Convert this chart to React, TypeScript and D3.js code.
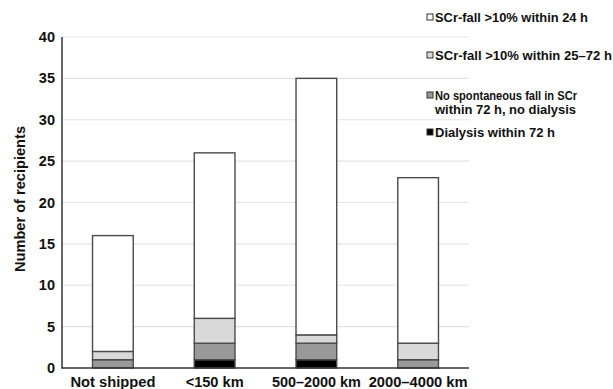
import React from "react";
import * as d3 from "d3";

const categories = ["Not shipped", "<150 km", "500–2000 km", "2000–4000 km"];
const dialysis = [0, 1, 1, 0];
const noFall = [1, 2, 2, 1];
const fall25to72 = [1, 3, 1, 2];
const fall24 = [14, 20, 31, 20];
const yTicks = [0, 5, 10, 15, 20, 25, 30, 35, 40];
const seriesNames = [
  "SCr-fall >10% within 24 h",
  "SCr-fall >10% within 25–72 h",
  "No spontaneous fall in SCr\nwithin 72 h, no dialysis",
  "Dialysis within 72 h",
];

const W = 613;
const H = 389;
const FONT = "'Liberation Sans', Arial, Helvetica, sans-serif";

export default function App() {
  const x = d3
    .scaleBand<string>()
    .domain(categories)
    .range([62, 469])
    .paddingInner(0.6)
    .paddingOuter(0.3);
  const y = d3.scaleLinear().domain([0, 40]).range([368, 37]);

  const keys = ["dialysis", "noFall", "fall25", "fall24"];
  const rows = categories.map((c, i) => ({
    cat: c,
    dialysis: dialysis[i],
    noFall: noFall[i],
    fall25: fall25to72[i],
    fall24: fall24[i],
  }));
  const stacked = d3.stack<any>().keys(keys)(rows);
  const fills: Record<string, string> = {
    dialysis: "#000000",
    noFall: "#999999",
    fall25: "#d9d9d9",
    fall24: "#ffffff",
  };
  const legendFills = ["#ffffff", "#d9d9d9", "#999999", "#000000"];
  const legendBaselines = [22, 60, 100, 137];
  const legendWidths = [[153], [177], [142, 141], [120]];
  const xLabelWidths = [85, 58, 89, 99];
  const bold = { fontWeight: 700, fontFamily: FONT } as React.CSSProperties;

  return (
    <svg
      width={W}
      height={H}
      style={{ position: "absolute", left: 0, top: 0, background: "#fff" }}
    >
      {/* gridlines */}
      {yTicks
        .filter((t) => t > 0)
        .map((t) => (
          <line
            key={t}
            x1={62}
            x2={469}
            y1={y(t)}
            y2={y(t)}
            stroke="#e3e3e3"
            strokeWidth={1.2}
          />
        ))}
      {/* bars */}
      {stacked.map((s) =>
        s.map((d, i) =>
          d[1] - d[0] > 0 ? (
            <rect
              key={s.key + i}
              x={x(categories[i])!}
              width={x.bandwidth()}
              y={y(d[1])}
              height={y(d[0]) - y(d[1])}
              fill={fills[s.key]}
              stroke="#4a4a4a"
              strokeWidth={1.4}
            />
          ) : null
        )
      )}
      {/* axes */}
      <line x1={62} x2={62} y1={37} y2={368.5} stroke="#333" strokeWidth={1.5} />
      <line x1={61.5} x2={469} y1={368} y2={368} stroke="#333" strokeWidth={1.5} />
      {yTicks.map((t) => (
        <text
          key={t}
          x={55}
          y={y(t) + 5}
          textAnchor="end"
          fontSize={14.5}
          fill="#111"
          style={bold}
        >
          {t}
        </text>
      ))}
      {categories.map((c, i) => (
        <text
          key={c}
          x={x(c)! + x.bandwidth() / 2}
          y={387}
          textAnchor="middle"
          fontSize={14}
          fill="#111"
          style={bold}
          textLength={xLabelWidths[i]}
          lengthAdjust="spacingAndGlyphs"
        >
          {c}
        </text>
      ))}
      <text
        transform="translate(25,199) rotate(-90)"
        textAnchor="middle"
        fontSize={14}
        fill="#111"
        style={bold}
        textLength={146}
        lengthAdjust="spacingAndGlyphs"
      >
        Number of recipients
      </text>
      {/* legend */}
      {seriesNames.map((name, i) => {
        const lines = name.split("\n");
        const by = legendBaselines[i];
        return (
          <g key={name}>
            <rect
              x={427}
              y={by - 8}
              width={6}
              height={6}
              fill={legendFills[i]}
              stroke="#333"
              strokeWidth={1}
            />
            {lines.map((ln, j) => (
              <text
                key={j}
                x={435}
                y={by + j * 13.5}
                fontSize={12.5}
                fill="#111"
                style={bold}
                textLength={legendWidths[i][j]}
                lengthAdjust="spacingAndGlyphs"
              >
                {ln}
              </text>
            ))}
          </g>
        );
      })}
    </svg>
  );
}
